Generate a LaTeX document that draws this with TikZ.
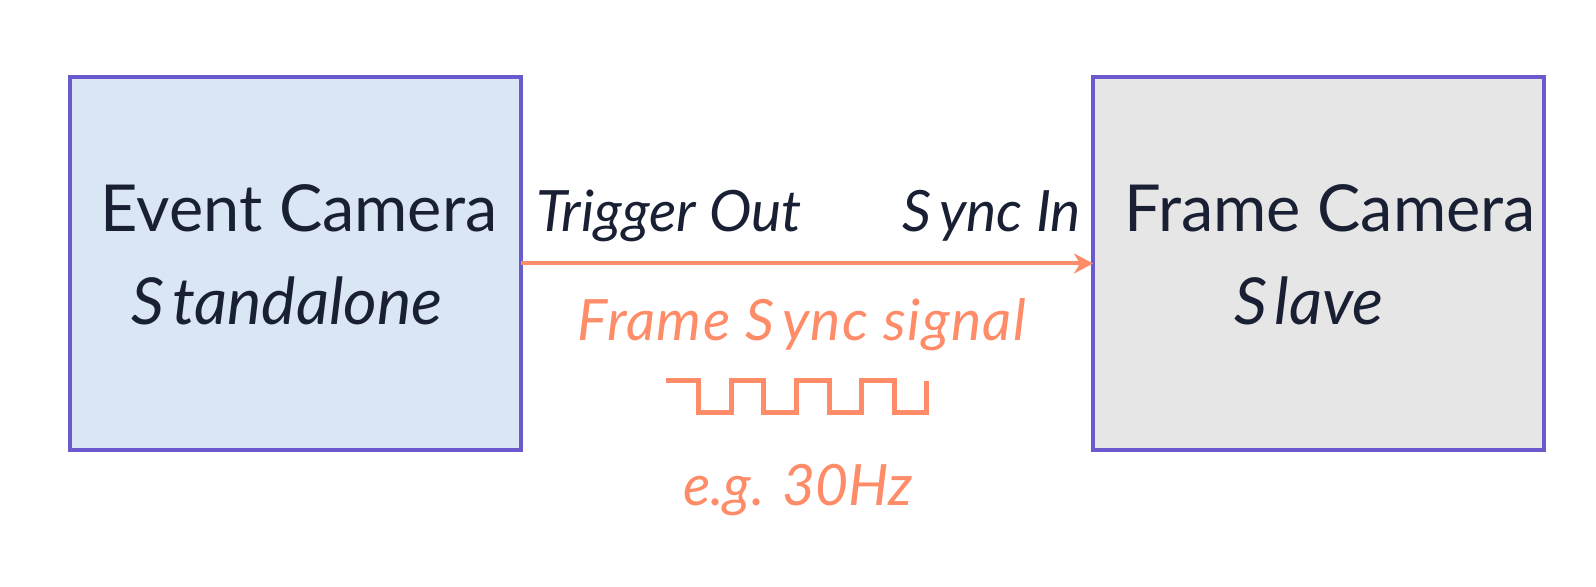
\documentclass[tikz,border=0pt]{standalone}
\usepackage{fontspec}
\setmainfont{Lato}
\usepackage{tikz}
\usetikzlibrary{arrows.meta}
\usepackage{color}
\definecolor{borde}{RGB}{106,90,205}
\definecolor{azulclaro}{RGB}{218,230,243}
\definecolor{gris}{RGB}{230,230,230}
\definecolor{naranja}{RGB}{255,140,105}
\definecolor{tinta}{RGB}{26,32,51}
\newcommand{\Sgap}{S\kern4pt}

\begin{document}
\begin{tikzpicture}[x=0.5pt, y=-0.5pt]
		% formatos
		\tikzstyle{every node}=[inner sep=0pt, outer sep=0pt]
		\tikzstyle{camara} = [draw=borde, line width=2pt, minimum width=225.5pt, minimum height=186.5pt]
		\tikzstyle{nombre} = [text=tinta, font=\fontsize{32.4}{38}\selectfont, anchor=base]
		\tikzstyle{modo} = [text=tinta, font=\fontsize{32.4}{38}\selectfont\itshape, anchor=base]
		\tikzstyle{puerto} = [text=tinta, font=\fontsize{28.5}{34}\selectfont\itshape]
		\tikzstyle{nota} = [text=naranja, font=\fontsize{28.5}{34}\selectfont\itshape, anchor=base]
		\tikzstyle{senal} = [-{Stealth[length=9.5pt, width=10pt, inset=3pt]}, draw=naranja, line width=2pt]
		\tikzstyle{onda} = [draw=naranja, line width=2.5pt]
		\useasboundingbox (0,0) rectangle (1596,587);
		% nodos
		\node [camara, fill=azulclaro] (EC) at (295,263.5) {};
		\node [camara, fill=gris] (FC) at (1318.5,263.5) {};
		\node [nombre] (ECn) at (299,232) {Event Camera};
		\node [modo] (ECm) at (287,325) {\Sgap tandalone};
		\node [nombre] (FCn) at (1330,232) {Frame Camera};
		\node [modo] (FCm) at (1309,325) {\Sgap lave};
		\node [puerto, anchor=base west] (TO) at (536,232) {Trigger Out};
		\node [puerto, anchor=base east] (SI) at (1081,232) {\Sgap ync In};
		\node [nota] (FS) at (802,341) {\addfontfeature{LetterSpace=2.5}Frame \Sgap ync signal};
		\node [nota] (HZ) at (798,506) {e.g. 30Hz};
		% relaciones
		\draw [senal] (EC.east) -- (FC.west);
		\draw [onda] (666,381) \foreach \k in {1,...,4} {-- ++(32.6,0) -- ++(0,32) -- ++(32.6,0) -- ++(0,-32)};
	\end{tikzpicture}
\end{document}
